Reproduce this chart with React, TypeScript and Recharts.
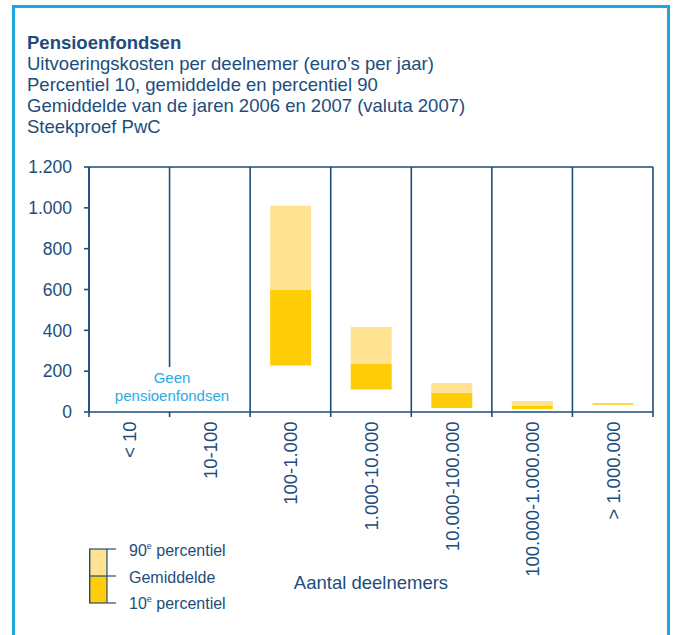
import React from "react";
import { BarChart, Bar, XAxis, YAxis, ReferenceLine, Label } from "recharts";

// aantal deelnemers (klassen)
const categories = [
  "< 10",
  "10-100",
  "100-1.000",
  "1.000-10.000",
  "10.000-100.000",
  "100.000-1.000.000",
  "> 1.000.000",
];
// euro's per deelnemer per jaar
const percentiel10 = [null, null, 228, 110, 20, 15, 36];
const gemiddelde = [null, null, 600, 236, 94, 29, 43];
const percentiel90 = [null, null, 1010, 416, 142, 54, 43];

const yTicks = [0, 200, 400, 600, 800, 1000, 1200];
const boundaries = [0, 1, 2, 3, 4, 5, 6, 7];
const geenLine = 220; // lijn tussen <10 en 10-100 stopt boven de tekst

const titleLines = [
  "Uitvoeringskosten per deelnemer (euro’s per jaar)",
  "Percentiel 10, gemiddelde en percentiel 90",
  "Gemiddelde van de jaren 2006 en 2007 (valuta 2007)",
  "Steekproef PwC",
];

const NAVY = "#1d4d7c";
const DARK = "#ffcc08";
const LIGHT = "#ffe393";
const CYAN = "#1ea7df";
const FONT = "'Liberation Sans', Arial, sans-serif";

const data = categories.map((name, i) => ({
  name,
  pos: i + 0.5,
  base: percentiel10[i],
  low:
    gemiddelde[i] != null && percentiel10[i] != null
      ? gemiddelde[i]! - percentiel10[i]!
      : null,
  high:
    percentiel90[i] != null && gemiddelde[i] != null
      ? percentiel90[i]! - gemiddelde[i]!
      : null,
}));

const xTicks = boundaries.flatMap((b) => (b < 7 ? [b, b + 0.5] : [b]));

function XTick(props: any) {
  const { x, y, payload } = props;
  const v = payload.value as number;
  if (Number.isInteger(v)) {
    return <line x1={x} y1={y} x2={x} y2={y + 5} stroke={NAVY} strokeWidth={1.6} />;
  }
  const i = Math.floor(v);
  const lx = x + 7;
  const ly = y + 9.5;
  return (
    <text
      x={lx}
      y={ly}
      transform={`rotate(-90 ${lx} ${ly})`}
      textAnchor="end"
      fontSize={18.5}
      fill={NAVY}
      fontFamily={FONT}
    >
      {categories[i]}
    </text>
  );
}

function LegendBox() {
  return (
    <svg width={160} height={80} style={{ overflow: "visible", display: "block" }}>
      <rect x={0} y={10} width={18} height={27} fill={LIGHT} />
      <rect x={0} y={37} width={18} height={27} fill={DARK} />
      <line x1={0.7} y1={10} x2={0.7} y2={64} stroke={NAVY} strokeWidth={1.4} />
      <line x1={18} y1={10} x2={18} y2={64} stroke={NAVY} strokeWidth={1.2} />
      {[10, 37, 64].map((yy) => (
        <line key={yy} x1={0} y1={yy} x2={27} y2={yy} stroke={NAVY} strokeWidth={1.2} />
      ))}
      <text x={40} y={16.5} fontSize={16} fill={NAVY} fontFamily={FONT}>
        90<tspan fontSize={9} dy={-7}>e</tspan>
        <tspan dy={7}> percentiel</tspan>
      </text>
      <text x={40} y={43.5} fontSize={16} fill={NAVY} fontFamily={FONT}>
        Gemiddelde
      </text>
      <text x={40} y={70} fontSize={16} fill={NAVY} fontFamily={FONT}>
        10<tspan fontSize={9} dy={-7}>e</tspan>
        <tspan dy={7}> percentiel</tspan>
      </text>
    </svg>
  );
}

export default function App() {
  return (
    <div
      style={{
        position: "absolute",
        left: 0,
        top: 0,
        width: 674,
        height: 635,
        overflow: "hidden",
        background: "#fff",
        fontFamily: FONT,
      }}
    >
      <div
        style={{
          position: "absolute",
          left: 12,
          top: 5,
          width: 652,
          height: 660,
          border: `3px solid ${CYAN}`,
        }}
      />
      <div
        style={{
          position: "absolute",
          left: 27,
          top: 32,
          color: NAVY,
          fontSize: 18.5,
          lineHeight: "21px",
          whiteSpace: "nowrap",
        }}
      >
        <div style={{ fontWeight: "bold" }}>Pensioenfondsen</div>
        {titleLines.map((t) => (
          <div key={t}>{t}</div>
        ))}
      </div>

      <div style={{ position: "absolute", left: 0, top: 0 }}>
        <BarChart
          width={674}
          height={635}
          data={data}
          margin={{ top: 167, right: 21, left: 29, bottom: 43 }}
        >
          <XAxis
            dataKey="pos"
            type="number"
            domain={[0, 7]}
            ticks={xTicks}
            interval={0}
            height={180}
            tickLine={false}
            tickSize={0}
            tickMargin={0}
            tick={<XTick />}
            stroke={NAVY}
            strokeWidth={1.6}
          >
            <Label
              value="Aantal deelnemers"
              position="insideBottom"
              offset={3}
              fontSize={18.5}
              fill={NAVY}
              fontFamily={FONT}
            />
          </XAxis>
          <YAxis
            width={60}
            domain={[0, 1200]}
            ticks={yTicks}
            interval={0}
            tickSize={5}
            tickMargin={12}
            tickFormatter={(v: number) => v.toLocaleString("nl-NL")}
            tick={{ fill: NAVY, fontSize: 17.5, fontFamily: FONT }}
            stroke={NAVY}
            strokeWidth={1.6}
          />
          {boundaries.map((b) =>
            b === 1 ? (
              <ReferenceLine
                key={b}
                segment={[
                  { x: b, y: geenLine },
                  { x: b, y: 1200 },
                ]}
                stroke={NAVY}
                strokeWidth={1.6}
              />
            ) : (
              <ReferenceLine key={b} x={b} stroke={NAVY} strokeWidth={1.6} />
            )
          )}
          <ReferenceLine y={1200} stroke={NAVY} strokeWidth={1.6} />
          <Bar dataKey="base" stackId="a" fill="transparent" barSize={41} isAnimationActive={false} />
          <Bar dataKey="low" stackId="a" fill={DARK} barSize={41} isAnimationActive={false} />
          <Bar dataKey="high" stackId="a" fill={LIGHT} barSize={41} isAnimationActive={false} />
        </BarChart>
      </div>

      <div style={{ position: "absolute", left: 89, top: 539 }}>
        <LegendBox />
      </div>

      <div
        style={{
          position: "absolute",
          left: 112,
          top: 369,
          width: 120,
          textAlign: "center",
          color: "#29abe2",
          fontSize: 15,
          lineHeight: "18px",
        }}
      >
        Geen
        <br />
        pensioenfondsen
      </div>
    </div>
  );
}
